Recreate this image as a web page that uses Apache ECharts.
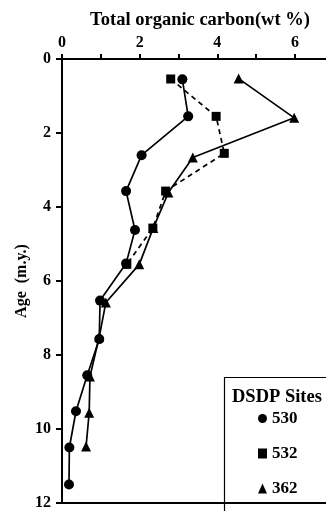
<!DOCTYPE html>
<html><head><meta charset="utf-8">
<script src="https://cdn.jsdelivr.net/npm/echarts@6/dist/echarts.min.js"></script>
<style>html,body{margin:0;padding:0;background:#fff}#c{width:326px;height:511px}</style>
</head><body><div id="c"></div>
<script>
// Site 530 (circles)
const age530 = [0.55, 1.55, 2.6, 3.57, 4.62, 5.53, 6.53, 7.57, 8.55, 9.52, 10.5, 11.5];
const toc530 = [3.1, 3.25, 2.05, 1.65, 1.88, 1.65, 0.98, 0.96, 0.65, 0.36, 0.19, 0.18];
// Site 532 (squares, dashed)
const age532 = [0.54, 1.55, 2.55, 3.57, 4.57, 5.55];
const toc532 = [2.8, 3.97, 4.18, 2.67, 2.34, 1.67];
// Site 362 (triangles)
const age362 = [0.53, 1.59, 2.66, 3.61, 4.57, 5.55, 6.58, 7.51, 8.58, 9.56, 10.47];
const toc362 = [4.55, 5.98, 3.37, 2.74, 2.35, 1.99, 1.13, 0.96, 0.72, 0.70, 0.62];
const xTickLabels = ['0','','2','','4','','6'];
const yTickLabels = ['0','2','4','6','8','10','12'];

const FONT = '"Liberation Serif", "DejaVu Serif", serif';
const pairs = (xs, ys) => xs.map((x, i) => [x, ys[i]]);
const chart = echarts.init(document.getElementById('c'));
chart.setOption({
  animation: false,
  backgroundColor: '#fff',
  grid: { left: 62, top: 59, right: 0, bottom: 3 },
  title: {
    text: 'Total organic carbon(wt %)', left: 195, top: 6, textAlign: 'center',
    textStyle: { fontFamily: FONT, fontWeight: 'bold', fontSize: 18.5, color: '#000' }
  },
  xAxis: [{
    type: 'value', position: 'top', min: 0, max: 6.8, interval: 1,
    axisLine: { show: true, onZero: false, lineStyle: { color: '#000', width: 2 } },
    axisTick: { show: true, inside: false, length: 5, lineStyle: { color: '#000', width: 2 } },
    axisLabel: { show: true, margin: 8, color: '#000', fontFamily: FONT, fontWeight: 'bold', fontSize: 16,
      formatter: v => xTickLabels[Math.round(v)] || '' , showMaxLabel: false},
    splitLine: { show: false }
  }, {
    type: 'value', position: 'bottom', min: 0, max: 6.8,
    axisLine: { show: true, onZero: false, lineStyle: { color: '#000', width: 2 } },
    axisTick: { show: false }, axisLabel: { show: false }, splitLine: { show: false }
  }],
  yAxis: {
    type: 'value', inverse: true, min: 0, max: 12, interval: 2,
    name: 'Age  (m.y.)', nameLocation: 'middle', nameGap: 32, nameMoveOverlap: false,
    nameTextStyle: { fontFamily: FONT, fontWeight: 'bold', fontSize: 16, color: '#000' },
    axisLine: { show: true, onZero: false, lineStyle: { color: '#000', width: 2 } },
    axisTick: { show: true, length: 6, lineStyle: { color: '#000', width: 2 } },
    axisLabel: { margin: 11, color: '#000', fontFamily: FONT, fontWeight: 'bold', fontSize: 16,
      formatter: v => yTickLabels[Math.round(v / 2)] },
    splitLine: { show: false }
  },
  legend: {
    orient: 'vertical', left: 258, top: 410, padding: 0, itemGap: 18, itemWidth: 9, itemHeight: 10,
    textStyle: { fontFamily: FONT, fontWeight: 'bold', fontSize: 17, color: '#000' },
    data: [{ name: '530', icon: 'circle' }, { name: '532', icon: 'rect' }, { name: '362', icon: 'triangle' }]
  },
  graphic: [
    { type: 'rect', shape: { x: 224.5, y: 377.5, width: 110, height: 140 }, style: { fill: '#fff', stroke: '#000', lineWidth: 1.2 }, z: 0 },
    { type: 'text', left: 232, top: 388, style: { text: 'DSDP Sites', font: 'bold 18.5px ' + FONT, fill: '#000' }, z: 10 }
  ],
  series: [
    { name: '530', type: 'line', data: pairs(toc530, age530), symbol: 'circle', symbolSize: 10,
      lineStyle: { color: '#000', width: 1.7 }, itemStyle: { color: '#000' }, z: 5 },
    { name: '532', type: 'line', data: pairs(toc532, age532), symbol: 'rect', symbolSize: 9,
      lineStyle: { color: '#000', width: 1.7, type: [5, 4] }, itemStyle: { color: '#000' }, z: 4 },
    { name: '362', type: 'line', data: pairs(toc362, age362), symbol: 'triangle', symbolSize: 10,
      lineStyle: { color: '#000', width: 1.7 }, itemStyle: { color: '#000' }, z: 3 }
  ]
});
</script></body></html>
